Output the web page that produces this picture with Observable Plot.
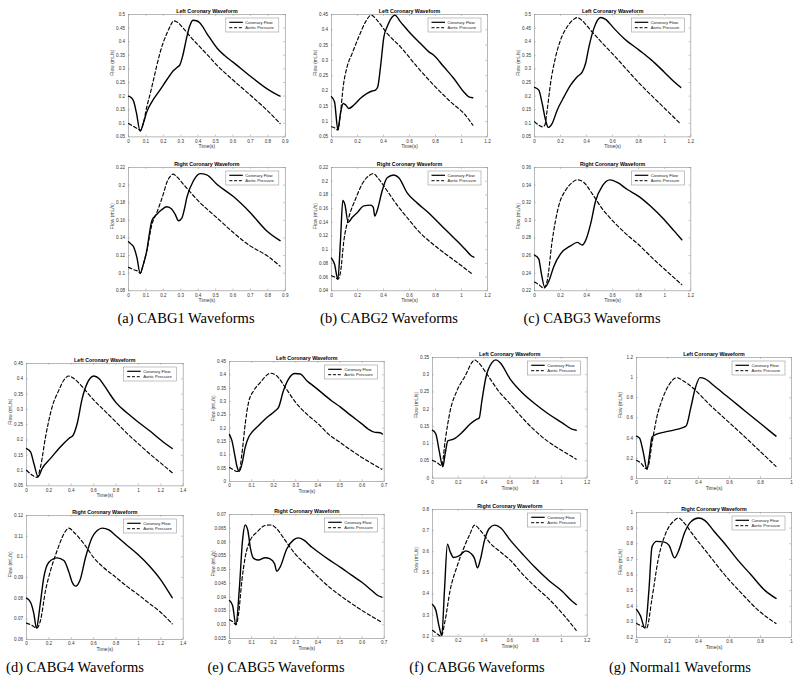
<!DOCTYPE html>
<html><head><meta charset="utf-8">
<script src="https://cdn.jsdelivr.net/npm/d3@7"></script>
<script src="https://cdn.jsdelivr.net/npm/@observablehq/plot@0.6"></script>
<style>
body{margin:0;background:#fff;width:800px;height:683px;position:relative;overflow:hidden}
.cap{position:absolute;font-family:"Liberation Serif","Times New Roman",serif;font-size:14.5px;line-height:1;white-space:nowrap;transform:translateX(-50%);color:#000}
</style></head><body>
<script>
// ---------- data: [time (s), value] ----------
const cabg1LeftFlow = [[0,0.2],[0.015,0.195],[0.03,0.18],[0.045,0.14],[0.067,0.071],[0.085,0.1],[0.105,0.142],[0.14,0.185],[0.18,0.222],[0.22,0.26],[0.26,0.295],[0.28,0.306],[0.295,0.315],[0.31,0.345],[0.335,0.418],[0.35,0.455],[0.37,0.479],[0.39,0.477],[0.41,0.469],[0.45,0.43],[0.51,0.375],[0.55,0.35],[0.6,0.325],[0.7,0.273],[0.8,0.225],[0.86,0.203],[0.87,0.2]];
const cabg1LeftPressure = [[0,0.099],[0.03,0.088],[0.055,0.079],[0.068,0.074],[0.085,0.1],[0.105,0.16],[0.125,0.21],[0.143,0.259],[0.18,0.357],[0.2,0.398],[0.22,0.43],[0.24,0.458],[0.26,0.477],[0.28,0.472],[0.315,0.449],[0.36,0.415],[0.41,0.381],[0.46,0.347],[0.507,0.314],[0.6,0.259],[0.7,0.203],[0.8,0.145],[0.87,0.099]];
const cabg1RightFlow = [[0,0.1357],[0.015,0.133],[0.029,0.13],[0.048,0.118],[0.067,0.0998],[0.085,0.11],[0.105,0.1255],[0.12,0.145],[0.134,0.1595],[0.163,0.167],[0.19,0.172],[0.22,0.1754],[0.249,0.1727],[0.27,0.166],[0.287,0.1595],[0.306,0.1625],[0.32,0.172],[0.335,0.186],[0.373,0.205],[0.411,0.213],[0.449,0.2117],[0.507,0.201],[0.602,0.187],[0.698,0.169],[0.794,0.148],[0.87,0.137]];
const cabg1RightPressure = [[0,0.1066],[0.03,0.104],[0.057,0.1017],[0.067,0.0998],[0.085,0.11],[0.105,0.1255],[0.134,0.155],[0.163,0.169],[0.2,0.19],[0.22,0.203],[0.24,0.21],[0.255,0.2124],[0.28,0.209],[0.315,0.201],[0.411,0.18],[0.507,0.163],[0.602,0.146],[0.698,0.131],[0.794,0.12],[0.87,0.108]];

const cabg2LeftFlow = [[0,0.181],[0.023,0.165],[0.049,0.074],[0.069,0.127],[0.09,0.159],[0.11,0.154],[0.133,0.143],[0.172,0.154],[0.223,0.176],[0.274,0.192],[0.313,0.2],[0.338,0.203],[0.356,0.214],[0.377,0.279],[0.403,0.377],[0.428,0.41],[0.467,0.442],[0.487,0.448],[0.531,0.426],[0.608,0.388],[0.685,0.355],[0.749,0.328],[0.787,0.317],[0.864,0.279],[0.941,0.241],[1.018,0.197],[1.056,0.181],[1.087,0.178]];
const cabg2LeftPressure = [[0,0.083],[0.031,0.078],[0.049,0.072],[0.069,0.127],[0.09,0.214],[0.12,0.279],[0.159,0.323],[0.21,0.377],[0.262,0.426],[0.305,0.448],[0.351,0.431],[0.428,0.388],[0.531,0.344],[0.659,0.279],[0.787,0.219],[0.915,0.165],[1.03,0.121],[1.088,0.088]];
const cabg2RightFlow = [[0,0.0876],[0.023,0.079],[0.049,0.057],[0.069,0.113],[0.087,0.172],[0.103,0.166],[0.128,0.14],[0.159,0.147],[0.197,0.154],[0.249,0.164],[0.3,0.165],[0.321,0.162],[0.333,0.149],[0.351,0.157],[0.39,0.186],[0.428,0.205],[0.479,0.209],[0.518,0.205],[0.582,0.183],[0.66,0.168],[0.74,0.155],[0.82,0.14],[0.9,0.125],[0.98,0.11],[1.04,0.098],[1.07,0.092],[1.095,0.089]];
const cabg2RightPressure = [[0,0.062],[0.031,0.0594],[0.049,0.057],[0.069,0.067],[0.095,0.113],[0.133,0.147],[0.185,0.174],[0.236,0.196],[0.287,0.208],[0.321,0.211],[0.364,0.203],[0.428,0.186],[0.505,0.165],[0.59,0.145],[0.68,0.125],[0.787,0.107],[0.89,0.092],[0.99,0.078],[1.085,0.064]];

const cabg3LeftFlow = [[0,0.232],[0.033,0.222],[0.059,0.173],[0.085,0.112],[0.105,0.085],[0.136,0.1],[0.174,0.148],[0.226,0.197],[0.277,0.24],[0.328,0.271],[0.367,0.289],[0.392,0.32],[0.418,0.381],[0.456,0.449],[0.508,0.489],[0.546,0.482],[0.61,0.449],[0.687,0.412],[0.803,0.369],[0.892,0.335],[0.995,0.289],[1.072,0.253],[1.123,0.232]];
const cabg3LeftPressure = [[0,0.106],[0.033,0.093],[0.059,0.087],[0.079,0.093],[0.097,0.148],[0.123,0.246],[0.162,0.344],[0.2,0.406],[0.251,0.455],[0.303,0.483],[0.328,0.489],[0.367,0.477],[0.431,0.442],[0.521,0.395],[0.61,0.35],[0.7,0.302],[0.803,0.248],[0.892,0.205],[0.995,0.157],[1.123,0.097]];
const cabg3RightFlow = [[0,0.2606],[0.033,0.256],[0.051,0.241],[0.079,0.224],[0.11,0.231],[0.149,0.248],[0.2,0.262],[0.277,0.271],[0.328,0.275],[0.367,0.272],[0.392,0.277],[0.431,0.296],[0.469,0.322],[0.521,0.339],[0.579,0.346],[0.636,0.343],[0.713,0.335],[0.803,0.327],[0.892,0.316],[0.995,0.301],[1.072,0.288],[1.131,0.278]];
const cabg3RightPressure = [[0,0.23],[0.033,0.227],[0.072,0.223],[0.097,0.231],[0.136,0.277],[0.187,0.317],[0.238,0.334],[0.29,0.343],[0.328,0.346],[0.379,0.343],[0.444,0.33],[0.521,0.313],[0.61,0.298],[0.7,0.285],[0.803,0.272],[0.892,0.259],[0.995,0.245],[1.131,0.227]];

const cabg4LeftFlow = [[0,0.172],[0.036,0.161],[0.066,0.123],[0.104,0.08],[0.14,0.107],[0.215,0.14],[0.304,0.178],[0.379,0.205],[0.417,0.216],[0.453,0.254],[0.498,0.336],[0.542,0.385],[0.602,0.409],[0.65,0.4],[0.7,0.375],[0.75,0.347],[0.8,0.322],[0.9,0.288],[1.0,0.258],[1.1,0.23],[1.2,0.2],[1.302,0.172]];
const cabg4LeftPressure = [[0,0.101],[0.051,0.085],[0.095,0.078],[0.125,0.112],[0.17,0.21],[0.229,0.308],[0.289,0.363],[0.334,0.396],[0.379,0.409],[0.423,0.401],[0.498,0.374],[0.602,0.33],[0.691,0.298],[0.796,0.26],[0.9,0.221],[0.996,0.189],[1.109,0.152],[1.198,0.125],[1.302,0.093]];
const cabg4RightFlow = [[0,0.08],[0.036,0.078],[0.066,0.0724],[0.089,0.0655],[0.119,0.0756],[0.155,0.0902],[0.2,0.0974],[0.274,0.0995],[0.334,0.0982],[0.379,0.0926],[0.408,0.0877],[0.441,0.0858],[0.477,0.0885],[0.528,0.0998],[0.587,0.1095],[0.632,0.1127],[0.677,0.1139],[0.736,0.113],[0.796,0.1103],[0.9,0.1055],[0.996,0.1011],[1.094,0.0958],[1.198,0.089],[1.302,0.0802]];
const cabg4RightPressure = [[0,0.0679],[0.051,0.0668],[0.089,0.0655],[0.125,0.0692],[0.17,0.0837],[0.215,0.0934],[0.274,0.1031],[0.334,0.1111],[0.379,0.1139],[0.423,0.1119],[0.513,0.1063],[0.602,0.0995],[0.691,0.0947],[0.796,0.0902],[0.9,0.0856],[0.996,0.0818],[1.094,0.0776],[1.198,0.0732],[1.302,0.0676]];

const cabg5LeftFlow = [[0,0.176],[0.011,0.153],[0.023,0.103],[0.033,0.059],[0.044,0.038],[0.056,0.065],[0.071,0.128],[0.086,0.165],[0.101,0.184],[0.131,0.209],[0.169,0.24],[0.207,0.265],[0.222,0.278],[0.244,0.34],[0.267,0.384],[0.297,0.405],[0.32,0.403],[0.35,0.378],[0.388,0.353],[0.433,0.322],[0.463,0.302],[0.501,0.28],[0.546,0.25],[0.599,0.216],[0.629,0.196],[0.659,0.184],[0.682,0.183],[0.692,0.178]];
const cabg5LeftPressure = [[0,0.0525],[0.018,0.044],[0.033,0.0375],[0.044,0.04],[0.056,0.1025],[0.071,0.215],[0.086,0.296],[0.109,0.34],[0.139,0.371],[0.169,0.399],[0.187,0.406],[0.214,0.396],[0.252,0.353],[0.3,0.296],[0.35,0.2525],[0.403,0.215],[0.448,0.1775],[0.501,0.146],[0.554,0.115],[0.599,0.09],[0.644,0.0675],[0.689,0.046]];
const cabg5RightFlow = [[0,0.0388],[0.014,0.037],[0.029,0.03],[0.044,0.0424],[0.059,0.0606],[0.071,0.0662],[0.083,0.0642],[0.094,0.0581],[0.109,0.0541],[0.131,0.0535],[0.161,0.0543],[0.184,0.0539],[0.204,0.0521],[0.214,0.0494],[0.229,0.0509],[0.259,0.0575],[0.29,0.0608],[0.312,0.0615],[0.335,0.0608],[0.373,0.0581],[0.403,0.0563],[0.448,0.0537],[0.501,0.0509],[0.554,0.0479],[0.599,0.0454],[0.644,0.0424],[0.671,0.0406],[0.689,0.04]];
const cabg5RightPressure = [[0,0.0318],[0.018,0.0309],[0.029,0.03],[0.041,0.0339],[0.056,0.046],[0.071,0.0545],[0.094,0.0606],[0.124,0.0636],[0.161,0.066],[0.189,0.0662],[0.214,0.0648],[0.252,0.0606],[0.297,0.0557],[0.35,0.0515],[0.403,0.0472],[0.448,0.0439],[0.501,0.0406],[0.554,0.0376],[0.599,0.0352],[0.644,0.033],[0.689,0.0309]];

const cabg6LeftFlow = [[0,0.139],[0.026,0.128],[0.052,0.079],[0.08,0.033],[0.098,0.07],[0.119,0.108],[0.163,0.113],[0.228,0.132],[0.292,0.157],[0.344,0.171],[0.362,0.174],[0.383,0.224],[0.414,0.292],[0.461,0.335],[0.492,0.343],[0.525,0.335],[0.603,0.287],[0.706,0.244],[0.797,0.215],[0.9,0.186],[1.004,0.161],[1.081,0.142],[1.115,0.139]];
const cabg6LeftPressure = [[0,0.052],[0.034,0.045],[0.072,0.036],[0.098,0.108],[0.137,0.195],[0.189,0.253],[0.254,0.297],[0.305,0.335],[0.326,0.343],[0.357,0.335],[0.422,0.302],[0.512,0.253],[0.603,0.215],[0.706,0.171],[0.797,0.137],[0.9,0.105],[1.004,0.08],[1.115,0.055]];
const cabg6RightFlow = [[0,0.35],[0.026,0.323],[0.052,0.244],[0.072,0.204],[0.093,0.418],[0.116,0.636],[0.137,0.6],[0.163,0.573],[0.202,0.579],[0.259,0.604],[0.3,0.591],[0.326,0.568],[0.349,0.524],[0.37,0.56],[0.404,0.655],[0.44,0.71],[0.481,0.726],[0.525,0.715],[0.603,0.655],[0.706,0.584],[0.797,0.525],[0.9,0.465],[1.004,0.414],[1.081,0.367],[1.115,0.35]];
const cabg6RightPressure = [[0,0.228],[0.034,0.212],[0.067,0.2],[0.098,0.275],[0.137,0.418],[0.189,0.528],[0.241,0.615],[0.292,0.686],[0.326,0.726],[0.37,0.702],[0.45,0.639],[0.525,0.6],[0.603,0.56],[0.706,0.489],[0.797,0.434],[0.9,0.378],[1.004,0.31],[1.115,0.228]];

const normal1LeftFlow = [[0,0.42],[0.02,0.4],[0.045,0.25],[0.068,0.09],[0.085,0.25],[0.1,0.41],[0.13,0.44],[0.18,0.46],[0.24,0.48],[0.29,0.5],[0.32,0.52],[0.35,0.7],[0.38,0.9],[0.41,1.0],[0.44,0.99],[0.5,0.92],[0.58,0.82],[0.66,0.72],[0.74,0.62],[0.82,0.52],[0.9,0.42]];
const normal1LeftPressure = [[0,0.18],[0.03,0.15],[0.06,0.1],[0.075,0.12],[0.1,0.35],[0.13,0.6],[0.17,0.8],[0.21,0.93],[0.26,1.0],[0.3,0.97],[0.37,0.89],[0.46,0.75],[0.58,0.58],[0.68,0.44],[0.79,0.28],[0.9,0.12]];
const normal1RightFlow = [[0,0.38],[0.025,0.34],[0.055,0.26],[0.08,0.5],[0.1,0.78],[0.13,0.815],[0.18,0.81],[0.21,0.79],[0.245,0.71],[0.27,0.75],[0.31,0.87],[0.35,0.94],[0.4,0.965],[0.44,0.95],[0.5,0.88],[0.57,0.8],[0.65,0.7],[0.74,0.6],[0.83,0.5],[0.9,0.45]];
const normal1RightPressure = [[0,0.29],[0.04,0.27],[0.065,0.26],[0.1,0.45],[0.14,0.7],[0.19,0.87],[0.24,0.945],[0.27,0.965],[0.31,0.93],[0.37,0.85],[0.45,0.75],[0.57,0.6],[0.68,0.48],[0.79,0.37],[0.9,0.29]];

// ---------- tick labels ----------
const xTicks09 = [0,0.1,0.2,0.3,0.4,0.5,0.6,0.7,0.8,0.9];
const xTicks12 = [0,0.2,0.4,0.6,0.8,1,1.2];
const xTicks14 = [0,0.2,0.4,0.6,0.8,1,1.2,1.4];
const xTicks07 = [0,0.1,0.2,0.3,0.4,0.5,0.6,0.7];
const xTicks10 = [0,0.2,0.4,0.6,0.8,1];
const yTicks05_50 = [0.05,0.1,0.15,0.2,0.25,0.3,0.35,0.4,0.45,0.5];
const yTicks05_45 = [0.05,0.1,0.15,0.2,0.25,0.3,0.35,0.4,0.45];
const yTicks0_45 = [0,0.05,0.1,0.15,0.2,0.25,0.3,0.35,0.4,0.45];
const yTicks0_35 = [0,0.05,0.1,0.15,0.2,0.25,0.3,0.35];
const yTicks08_22 = [0.08,0.1,0.12,0.14,0.16,0.18,0.2,0.22];
const yTicks04_22 = [0.04,0.06,0.08,0.1,0.12,0.14,0.16,0.18,0.2,0.22];
const yTicks22_36 = [0.22,0.24,0.26,0.28,0.3,0.32,0.34,0.36];
const yTicks06_12 = [0.06,0.07,0.08,0.09,0.1,0.11,0.12];
const yTicks025_07 = [0.025,0.03,0.035,0.04,0.045,0.05,0.055,0.06,0.065,0.07];
const yTicks2_8 = [0.2,0.3,0.4,0.5,0.6,0.7,0.8];
const yTicks0_12 = [0,0.2,0.4,0.6,0.8,1,1.2];
const yTicks2_10 = [0.2,0.3,0.4,0.5,0.6,0.7,0.8,0.9,1];

// ---------- text ----------
const titles = ["Left Coronary Waveform", "Right Coronary Waveform"];
const legendLabels = ["Coronary Flow", "Aortic Pressure"];
const xLabel = "Time(s)";
const yLabel = "Flow (mL/s)";
const captions = ["(a) CABG1 Waveforms","(b) CABG2 Waveforms","(c) CABG3 Waveforms","(d) CABG4 Waveforms","(e) CABG5 Waveforms","(f) CABG6 Waveforms","(g) Normal1 Waveforms"];

// ---------- layout (frame positions in page pixels) ----------
const panels = [
  {flow:cabg1LeftFlow, pres:cabg1LeftPressure, t:0, xt:xTicks09, yt:yTicks05_50, fx:128.3, fy:14.3, fw:156.8, fh:122.4},
  {flow:cabg1RightFlow, pres:cabg1RightPressure, t:1, xt:xTicks09, yt:yTicks08_22, fx:128.3, fy:166.7, fw:156.8, fh:123.3},
  {flow:cabg2LeftFlow, pres:cabg2LeftPressure, t:0, xt:xTicks12, yt:yTicks05_45, fx:331, fy:14.3, fw:156, fh:122.4},
  {flow:cabg2RightFlow, pres:cabg2RightPressure, t:1, xt:xTicks12, yt:yTicks04_22, fx:331, fy:166.7, fw:156, fh:123.3},
  {flow:cabg3LeftFlow, pres:cabg3LeftPressure, t:0, xt:xTicks12, yt:yTicks05_50, fx:534, fy:14.3, fw:156.3, fh:122.4},
  {flow:cabg3RightFlow, pres:cabg3RightPressure, t:1, xt:xTicks12, yt:yTicks22_36, fx:534, fy:166.7, fw:156.3, fh:123.3},
  {flow:cabg4LeftFlow, pres:cabg4LeftPressure, t:0, xt:xTicks14, yt:yTicks05_45, fx:26, fy:363.3, fw:156.7, fh:122.4},
  {flow:cabg4RightFlow, pres:cabg4RightPressure, t:1, xt:xTicks14, yt:yTicks06_12, fx:26, fy:515, fw:156.7, fh:124},
  {flow:cabg5LeftFlow, pres:cabg5LeftPressure, t:0, xt:xTicks07, yt:yTicks0_45, fx:229.3, fy:360.7, fw:154.7, fh:120},
  {flow:cabg5RightFlow, pres:cabg5RightPressure, t:1, xt:xTicks07, yt:yTicks025_07, fx:229.3, fy:514, fw:154.7, fh:124},
  {flow:cabg6LeftFlow, pres:cabg6LeftPressure, t:0, xt:xTicks12, yt:yTicks0_35, fx:432.3, fy:356.7, fw:154.7, fh:120.6},
  {flow:cabg6RightFlow, pres:cabg6RightPressure, t:1, xt:xTicks12, yt:yTicks2_8, fx:432.3, fy:509.3, fw:154.7, fh:126.7},
  {flow:normal1LeftFlow, pres:normal1LeftPressure, t:0, xt:xTicks10, yt:yTicks0_12, fx:636, fy:357, fw:155, fh:121},
  {flow:normal1RightFlow, pres:normal1RightPressure, t:1, xt:xTicks10, yt:yTicks2_10, fx:636, fy:512, fw:155, fh:125}
];
const captionPos = [[186,311],[389,311],[592,311],[75,660],[276,660],[477,660],[680,660]];

const mL = 40, mR = 8, mT = 14, mB = 22;
const fmt = d => String(d);
const DASH = "3.5,2.4";

function drawPanel(p) {
  const chart = Plot.plot({
    width: p.fw + mL + mR, height: p.fh + mT + mB,
    marginLeft: mL, marginRight: mR, marginTop: mT, marginBottom: mB,
    style: {background: "transparent", fontFamily: "'Liberation Sans', Arial, sans-serif", overflow: "visible"},
    x: {domain: [p.xt[0], p.xt[p.xt.length - 1]]},
    y: {domain: [p.yt[0], p.yt[p.yt.length - 1]]},
    marks: [
      Plot.axisX({ticks: p.xt, tickFormat: fmt, tickSize: 0, tickPadding: 2.6, fontSize: 4.6, color: "#333", label: null}),
      Plot.axisY({ticks: p.yt, tickFormat: fmt, tickSize: 0, tickPadding: 3.5, fontSize: 4.6, color: "#333", label: null}),
      Plot.tickX(p.xt, {x: d => d, insetTop: p.fh - 1.8, stroke: "#888", strokeWidth: 0.5}),
      Plot.tickX(p.xt, {x: d => d, insetBottom: p.fh - 1.8, stroke: "#888", strokeWidth: 0.5}),
      Plot.tickY(p.yt, {y: d => d, insetRight: p.fw - 1.8, stroke: "#888", strokeWidth: 0.5}),
      Plot.tickY(p.yt, {y: d => d, insetLeft: p.fw - 1.8, stroke: "#888", strokeWidth: 0.5}),
      Plot.frame({stroke: "#9a9a9a", strokeWidth: 0.7}),
      Plot.line(p.pres, {x: d => d[0], y: d => d[1], stroke: "#000", strokeWidth: 1.15, strokeDasharray: DASH, curve: "monotone-x"}),
      Plot.line(p.flow, {x: d => d[0], y: d => d[1], stroke: "#000", strokeWidth: 1.4, curve: "monotone-x"}),
      Plot.text([titles[p.t]], {text: d => d, frameAnchor: "top", dy: -5, fontWeight: "bold", fontSize: 5.3, fill: "#000"}),
      Plot.text([xLabel], {text: d => d, frameAnchor: "bottom", dy: 11.5, fontSize: 5, fill: "#333"}),
      Plot.text([yLabel], {text: d => d, frameAnchor: "left", dx: -16, rotate: -90, fontSize: 5, fill: "#333"})
    ]
  });
  chart.style.position = "absolute";
  chart.style.left = (p.fx - mL) + "px";
  chart.style.top = (p.fy - mT) + "px";
  chart.style.maxWidth = "none";
  // legend box (top-right inside the axes)
  const lw = 53, lh = 14;
  const lx = mL + p.fw - 6 - lw, ly = mT + 4;
  const g = d3.select(chart).append("g").attr("text-anchor", "start");
  g.append("rect").attr("x", lx).attr("y", ly).attr("width", lw).attr("height", lh)
    .attr("fill", "#fff").attr("stroke", "#9a9a9a").attr("stroke-width", 0.6);
  legendLabels.forEach((label, i) => {
    const yy = ly + 4.3 + i * 5.4;
    g.append("line").attr("x1", lx + 3.5).attr("x2", lx + 17).attr("y1", yy).attr("y2", yy)
      .attr("stroke", "#000").attr("stroke-width", i ? 1.0 : 1.2)
      .attr("stroke-dasharray", i ? "3,1.8" : null);
    g.append("text").attr("x", lx + 19.5).attr("y", yy).attr("dy", "0.35em")
      .attr("text-anchor", "start")
      .attr("font-size", 4.2).attr("fill", "#222").text(label);
  });
  document.body.appendChild(chart);
}
panels.forEach(drawPanel);

captions.forEach((c, i) => {
  const d = document.createElement("div");
  d.className = "cap";
  d.style.left = captionPos[i][0] + "px";
  d.style.top = captionPos[i][1] + "px";
  d.textContent = c;
  document.body.appendChild(d);
});
</script>
</body></html>
